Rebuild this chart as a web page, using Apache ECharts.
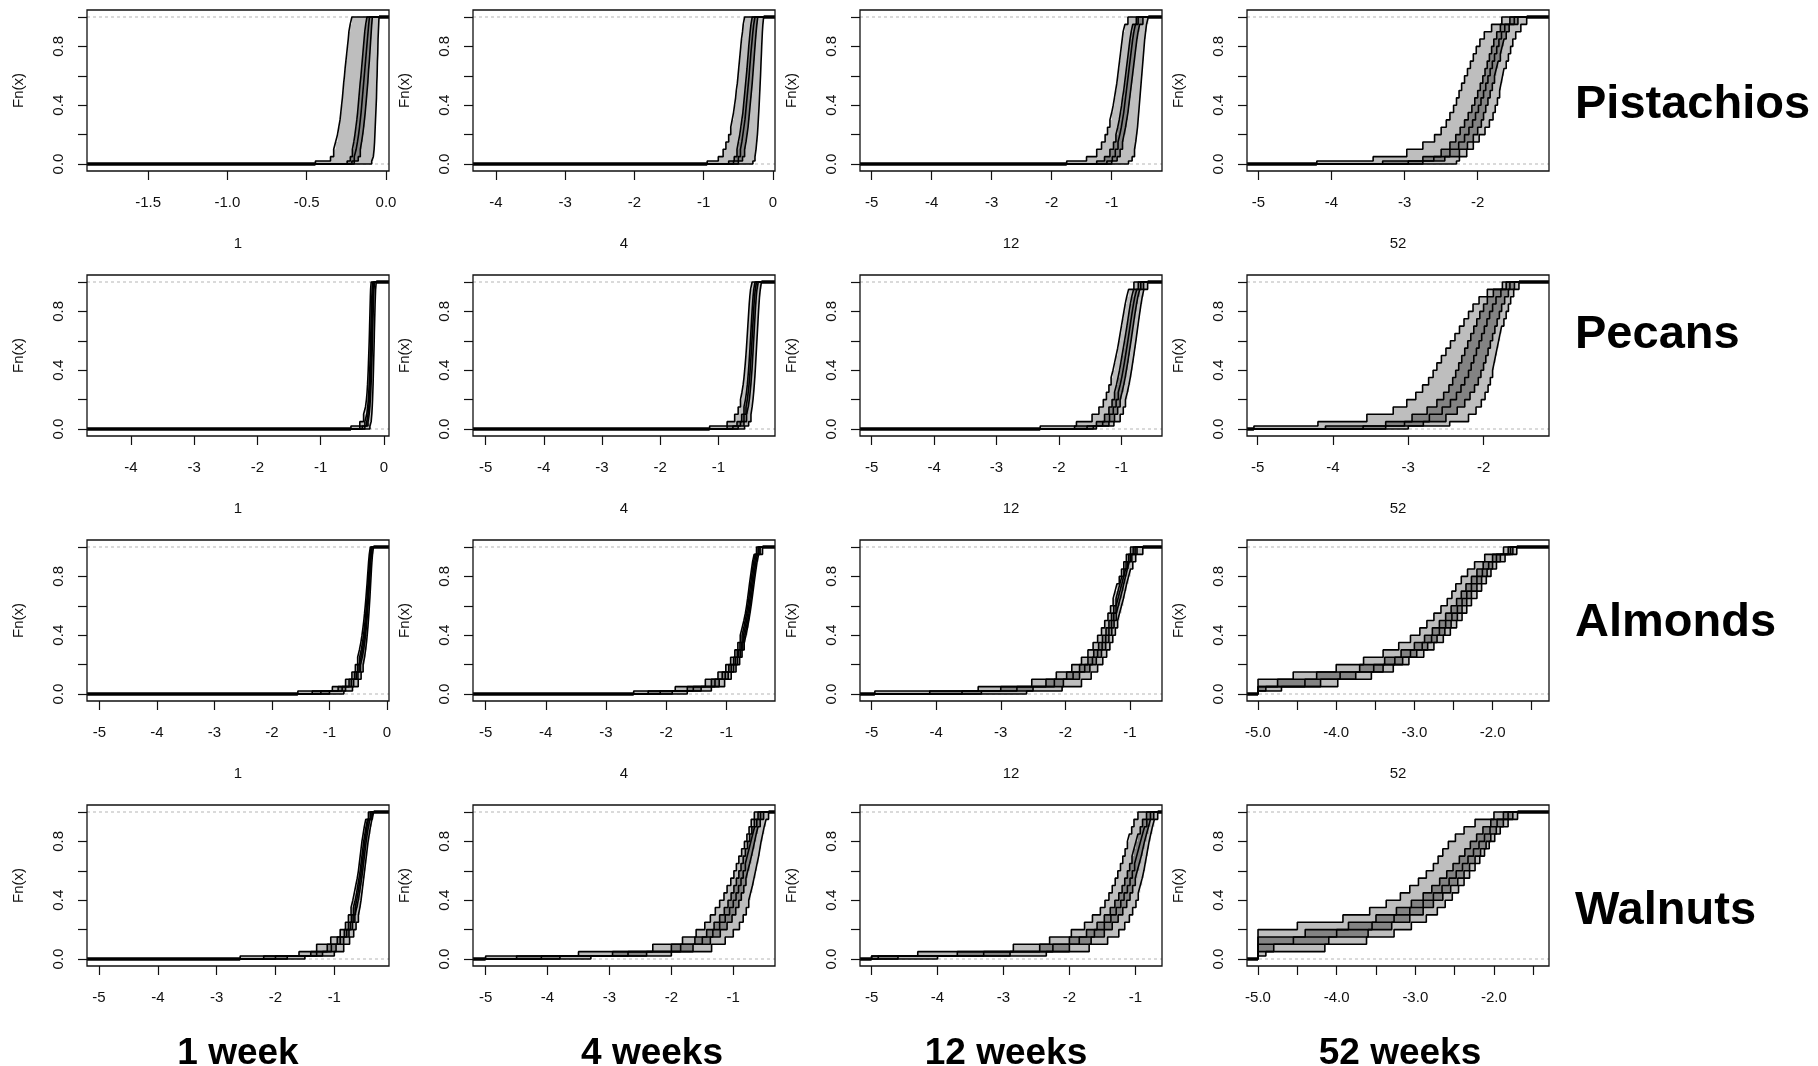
<!DOCTYPE html>
<html><head><meta charset="utf-8">
<script src="https://cdn.jsdelivr.net/npm/echarts@6/dist/echarts.min.js"></script>
<style>html,body{margin:0;padding:0;background:#fff}#c{width:1818px;height:1066px}</style>
</head><body><div id="c"></div>
<script>
// ECDF levels at which each curve's jump positions are given
const LEVELS = [0.02,0.05,0.1,0.15,0.2,0.25,0.3,0.35,0.4,0.45,0.5,0.55,0.6,0.65,0.7,0.75,0.8,0.85,0.9,0.95,1.0];
const nuts = ['Pistachios','Pecans','Almonds','Walnuts'];
const horizons = ['1 week','4 weeks','12 weeks','52 weeks'];
const horizonAxisTitles = ['1','4','12','52'];

// each panel: [outer-upper, inner-upper, median, inner-lower, outer-lower] x positions at LEVELS
const pistachios_w1 = [
 [-0.445,-0.35,-0.33,-0.318,-0.306,-0.298,-0.29,-0.285,-0.28,-0.275,-0.271,-0.267,-0.262,-0.258,-0.253,-0.248,-0.243,-0.238,-0.234,-0.226,-0.215],
 [-0.245,-0.225,-0.212,-0.203,-0.196,-0.19,-0.184,-0.179,-0.175,-0.171,-0.167,-0.163,-0.158,-0.154,-0.15,-0.146,-0.142,-0.138,-0.134,-0.128,-0.12],
 [-0.215,-0.2,-0.188,-0.18,-0.173,-0.167,-0.162,-0.157,-0.153,-0.149,-0.145,-0.141,-0.137,-0.133,-0.129,-0.125,-0.121,-0.117,-0.113,-0.109,-0.104],
 [-0.2,-0.175,-0.162,-0.154,-0.147,-0.141,-0.136,-0.131,-0.127,-0.123,-0.119,-0.115,-0.112,-0.109,-0.105,-0.102,-0.099,-0.096,-0.093,-0.09,-0.086],
 [-0.09,-0.08,-0.075,-0.072,-0.07,-0.068,-0.066,-0.064,-0.062,-0.06,-0.059,-0.058,-0.056,-0.055,-0.054,-0.052,-0.051,-0.05,-0.048,-0.046,-0.044]
];
const pistachios_w4 = [
 [-0.95,-0.79,-0.72,-0.68,-0.64,-0.61,-0.59,-0.57,-0.555,-0.54,-0.53,-0.515,-0.505,-0.495,-0.485,-0.475,-0.465,-0.455,-0.44,-0.43,-0.41],
 [-0.64,-0.56,-0.52,-0.5,-0.48,-0.465,-0.45,-0.435,-0.425,-0.415,-0.405,-0.395,-0.385,-0.375,-0.367,-0.358,-0.35,-0.34,-0.33,-0.318,-0.3],
 [-0.57,-0.5,-0.47,-0.45,-0.435,-0.42,-0.405,-0.395,-0.385,-0.375,-0.365,-0.355,-0.345,-0.337,-0.328,-0.32,-0.31,-0.3,-0.29,-0.278,-0.26],
 [-0.5,-0.44,-0.41,-0.39,-0.375,-0.36,-0.35,-0.34,-0.33,-0.32,-0.31,-0.3,-0.292,-0.284,-0.276,-0.268,-0.26,-0.252,-0.243,-0.233,-0.22],
 [-0.29,-0.26,-0.245,-0.235,-0.225,-0.218,-0.212,-0.206,-0.2,-0.195,-0.19,-0.185,-0.18,-0.176,-0.172,-0.167,-0.163,-0.158,-0.153,-0.146,-0.135]
];
const pistachios_w12 = [
 [-1.75,-1.42,-1.25,-1.17,-1.11,-1.07,-1.03,-1.0,-0.975,-0.955,-0.935,-0.915,-0.9,-0.885,-0.87,-0.855,-0.84,-0.825,-0.81,-0.78,-0.73],
 [-1.25,-1.12,-1.03,-0.97,-0.93,-0.9,-0.875,-0.855,-0.835,-0.82,-0.8,-0.785,-0.77,-0.755,-0.74,-0.725,-0.71,-0.695,-0.675,-0.65,-0.59],
 [-1.08,-0.99,-0.94,-0.895,-0.865,-0.84,-0.82,-0.8,-0.785,-0.77,-0.755,-0.74,-0.725,-0.71,-0.695,-0.68,-0.665,-0.65,-0.63,-0.605,-0.56],
 [-1.0,-0.91,-0.86,-0.82,-0.795,-0.77,-0.75,-0.73,-0.715,-0.7,-0.685,-0.67,-0.655,-0.64,-0.625,-0.61,-0.595,-0.58,-0.56,-0.535,-0.48],
 [-0.72,-0.66,-0.62,-0.6,-0.585,-0.57,-0.56,-0.55,-0.54,-0.53,-0.52,-0.51,-0.5,-0.49,-0.48,-0.47,-0.46,-0.45,-0.435,-0.42,-0.39]
];
const pistachios_w52 = [
 [-4.2,-3.43,-2.97,-2.75,-2.59,-2.5,-2.43,-2.38,-2.33,-2.29,-2.255,-2.22,-2.18,-2.14,-2.1,-2.06,-2.02,-1.97,-1.91,-1.81,-1.67],
 [-3.3,-2.75,-2.5,-2.38,-2.3,-2.24,-2.18,-2.13,-2.08,-2.04,-2.0,-1.965,-1.93,-1.9,-1.87,-1.84,-1.81,-1.78,-1.74,-1.69,-1.56],
 [-2.95,-2.6,-2.38,-2.26,-2.18,-2.12,-2.07,-2.03,-1.99,-1.955,-1.92,-1.89,-1.86,-1.83,-1.8,-1.77,-1.74,-1.71,-1.675,-1.63,-1.5],
 [-2.75,-2.45,-2.25,-2.14,-2.06,-2.0,-1.95,-1.92,-1.89,-1.86,-1.83,-1.8,-1.77,-1.745,-1.72,-1.69,-1.665,-1.64,-1.61,-1.57,-1.45],
 [-2.29,-2.25,-2.15,-2.06,-1.98,-1.9,-1.84,-1.79,-1.76,-1.73,-1.7,-1.68,-1.66,-1.64,-1.61,-1.58,-1.55,-1.52,-1.48,-1.41,-1.33]
];
const pecans_w1 = [
 [-0.52,-0.38,-0.32,-0.29,-0.275,-0.265,-0.258,-0.252,-0.247,-0.243,-0.239,-0.235,-0.231,-0.228,-0.225,-0.222,-0.219,-0.216,-0.213,-0.209,-0.2],
 [-0.38,-0.3,-0.27,-0.255,-0.245,-0.238,-0.232,-0.227,-0.223,-0.219,-0.215,-0.212,-0.209,-0.206,-0.203,-0.2,-0.197,-0.194,-0.19,-0.185,-0.175],
 [-0.34,-0.27,-0.25,-0.238,-0.229,-0.222,-0.216,-0.212,-0.208,-0.204,-0.2,-0.197,-0.194,-0.191,-0.188,-0.185,-0.182,-0.179,-0.175,-0.17,-0.16],
 [-0.3,-0.25,-0.232,-0.221,-0.213,-0.207,-0.202,-0.197,-0.193,-0.189,-0.186,-0.183,-0.18,-0.177,-0.174,-0.171,-0.168,-0.165,-0.161,-0.156,-0.145],
 [-0.22,-0.2,-0.19,-0.183,-0.178,-0.174,-0.17,-0.167,-0.164,-0.161,-0.158,-0.155,-0.152,-0.15,-0.147,-0.144,-0.141,-0.138,-0.134,-0.13,-0.12]
];
const pecans_w4 = [
 [-1.15,-0.85,-0.72,-0.66,-0.62,-0.595,-0.575,-0.56,-0.548,-0.537,-0.527,-0.518,-0.51,-0.502,-0.494,-0.486,-0.478,-0.47,-0.46,-0.447,-0.42],
 [-0.85,-0.68,-0.6,-0.56,-0.535,-0.517,-0.503,-0.492,-0.482,-0.473,-0.465,-0.457,-0.45,-0.443,-0.436,-0.429,-0.421,-0.413,-0.404,-0.392,-0.37],
 [-0.75,-0.62,-0.56,-0.525,-0.503,-0.487,-0.474,-0.463,-0.454,-0.446,-0.438,-0.43,-0.423,-0.416,-0.409,-0.402,-0.395,-0.387,-0.378,-0.366,-0.345],
 [-0.66,-0.56,-0.515,-0.487,-0.468,-0.454,-0.442,-0.432,-0.423,-0.415,-0.408,-0.401,-0.394,-0.387,-0.38,-0.373,-0.366,-0.358,-0.349,-0.337,-0.315],
 [-0.55,-0.48,-0.44,-0.42,-0.405,-0.393,-0.383,-0.374,-0.366,-0.359,-0.352,-0.345,-0.338,-0.331,-0.324,-0.317,-0.31,-0.302,-0.293,-0.28,-0.26]
];
const pecans_w12 = [
 [-2.3,-1.72,-1.47,-1.36,-1.29,-1.24,-1.2,-1.165,-1.135,-1.11,-1.085,-1.06,-1.04,-1.02,-1.0,-0.98,-0.96,-0.94,-0.915,-0.885,-0.8],
 [-1.75,-1.4,-1.27,-1.2,-1.15,-1.11,-1.08,-1.055,-1.03,-1.01,-0.99,-0.97,-0.95,-0.93,-0.912,-0.894,-0.876,-0.857,-0.835,-0.805,-0.73],
 [-1.55,-1.3,-1.19,-1.13,-1.085,-1.05,-1.02,-0.995,-0.973,-0.953,-0.934,-0.915,-0.897,-0.879,-0.861,-0.844,-0.826,-0.807,-0.785,-0.755,-0.69],
 [-1.4,-1.2,-1.11,-1.06,-1.02,-0.99,-0.963,-0.94,-0.92,-0.9,-0.882,-0.864,-0.846,-0.829,-0.812,-0.795,-0.777,-0.758,-0.736,-0.707,-0.645],
 [-1.45,-1.12,-1.02,-0.97,-0.935,-0.905,-0.88,-0.858,-0.838,-0.82,-0.802,-0.785,-0.768,-0.752,-0.736,-0.72,-0.703,-0.686,-0.666,-0.64,-0.58]
];
const pecans_w52 = [
 [-5.05,-4.2,-3.55,-3.2,-3.02,-2.9,-2.81,-2.73,-2.67,-2.62,-2.56,-2.5,-2.44,-2.38,-2.32,-2.26,-2.2,-2.14,-2.06,-1.95,-1.75],
 [-4.1,-3.3,-2.95,-2.75,-2.62,-2.53,-2.46,-2.41,-2.37,-2.33,-2.29,-2.25,-2.21,-2.17,-2.13,-2.09,-2.05,-2.0,-1.95,-1.87,-1.7],
 [-3.6,-3.05,-2.72,-2.55,-2.44,-2.36,-2.3,-2.25,-2.2,-2.165,-2.13,-2.095,-2.06,-2.025,-1.99,-1.955,-1.92,-1.88,-1.835,-1.77,-1.65],
 [-3.3,-2.8,-2.5,-2.35,-2.25,-2.18,-2.12,-2.07,-2.035,-2.0,-1.97,-1.94,-1.91,-1.88,-1.85,-1.82,-1.79,-1.76,-1.72,-1.67,-1.59],
 [-3.0,-2.45,-2.2,-2.1,-2.03,-1.98,-1.94,-1.91,-1.88,-1.86,-1.84,-1.82,-1.8,-1.78,-1.76,-1.73,-1.7,-1.67,-1.64,-1.6,-1.53]
];
const almonds_w1 = [
 [-1.55,-0.95,-0.72,-0.61,-0.55,-0.51,-0.48,-0.455,-0.435,-0.418,-0.403,-0.39,-0.378,-0.367,-0.357,-0.347,-0.338,-0.329,-0.32,-0.308,-0.29],
 [-1.3,-0.85,-0.66,-0.565,-0.51,-0.475,-0.448,-0.426,-0.408,-0.393,-0.38,-0.368,-0.357,-0.347,-0.338,-0.329,-0.32,-0.312,-0.303,-0.292,-0.275],
 [-1.15,-0.78,-0.62,-0.535,-0.485,-0.452,-0.427,-0.407,-0.39,-0.376,-0.364,-0.353,-0.343,-0.334,-0.325,-0.317,-0.309,-0.301,-0.292,-0.282,-0.265],
 [-1.0,-0.72,-0.58,-0.505,-0.46,-0.43,-0.407,-0.388,-0.373,-0.36,-0.349,-0.339,-0.33,-0.321,-0.313,-0.305,-0.297,-0.29,-0.282,-0.272,-0.255],
 [-0.75,-0.6,-0.5,-0.45,-0.415,-0.39,-0.372,-0.357,-0.344,-0.333,-0.323,-0.314,-0.306,-0.298,-0.291,-0.284,-0.277,-0.27,-0.262,-0.252,-0.235]
];
const almonds_w4 = [
 [-2.54,-1.85,-1.35,-1.14,-1.01,-0.93,-0.86,-0.81,-0.77,-0.74,-0.71,-0.685,-0.665,-0.648,-0.632,-0.617,-0.6,-0.583,-0.565,-0.54,-0.5],
 [-2.3,-1.65,-1.25,-1.07,-0.96,-0.88,-0.82,-0.775,-0.74,-0.712,-0.687,-0.665,-0.645,-0.628,-0.612,-0.597,-0.581,-0.565,-0.547,-0.523,-0.475],
 [-2.1,-1.55,-1.19,-1.02,-0.92,-0.85,-0.795,-0.752,-0.718,-0.69,-0.666,-0.645,-0.626,-0.609,-0.593,-0.578,-0.562,-0.546,-0.528,-0.505,-0.46],
 [-1.9,-1.42,-1.12,-0.97,-0.88,-0.815,-0.765,-0.727,-0.695,-0.668,-0.645,-0.625,-0.607,-0.59,-0.574,-0.559,-0.543,-0.527,-0.509,-0.485,-0.44],
 [-1.65,-1.25,-1.03,-0.92,-0.84,-0.78,-0.74,-0.705,-0.675,-0.65,-0.628,-0.608,-0.59,-0.573,-0.557,-0.541,-0.525,-0.508,-0.49,-0.465,-0.4]
];
const almonds_w12 = [
 [-4.95,-3.35,-2.52,-2.14,-1.9,-1.75,-1.65,-1.57,-1.5,-1.44,-1.39,-1.34,-1.3,-1.26,-1.23,-1.2,-1.165,-1.13,-1.095,-1.055,-0.99],
 [-4.1,-3.0,-2.3,-1.98,-1.78,-1.65,-1.56,-1.485,-1.425,-1.37,-1.325,-1.285,-1.25,-1.215,-1.185,-1.155,-1.125,-1.093,-1.06,-1.02,-0.95],
 [-3.6,-2.75,-2.17,-1.88,-1.7,-1.58,-1.5,-1.43,-1.375,-1.325,-1.285,-1.25,-1.215,-1.185,-1.155,-1.125,-1.097,-1.067,-1.035,-0.995,-0.92],
 [-3.3,-2.5,-2.03,-1.78,-1.62,-1.52,-1.44,-1.375,-1.325,-1.28,-1.245,-1.21,-1.18,-1.15,-1.12,-1.095,-1.067,-1.04,-1.01,-0.97,-0.89],
 [-2.6,-2.05,-1.75,-1.6,-1.5,-1.42,-1.36,-1.31,-1.265,-1.225,-1.19,-1.16,-1.13,-1.1,-1.075,-1.05,-1.02,-0.99,-0.955,-0.91,-0.8]
];
const almonds_w52 = [
 [-5.0,-5.0,-5.0,-4.55,-4.0,-3.65,-3.4,-3.2,-3.05,-2.93,-2.84,-2.75,-2.66,-2.58,-2.52,-2.47,-2.4,-2.32,-2.23,-2.1,-1.86],
 [-5.0,-5.0,-4.75,-4.25,-3.7,-3.38,-3.17,-3.0,-2.87,-2.77,-2.68,-2.6,-2.53,-2.46,-2.4,-2.34,-2.27,-2.2,-2.12,-2.0,-1.8],
 [-5.0,-5.0,-4.4,-3.95,-3.52,-3.25,-3.05,-2.9,-2.78,-2.68,-2.6,-2.52,-2.45,-2.39,-2.33,-2.27,-2.2,-2.13,-2.05,-1.95,-1.77],
 [-5.0,-4.9,-4.2,-3.75,-3.4,-3.15,-2.97,-2.83,-2.71,-2.61,-2.53,-2.45,-2.39,-2.33,-2.27,-2.2,-2.14,-2.07,-2.0,-1.9,-1.74],
 [-5.0,-4.7,-3.98,-3.55,-3.27,-3.07,-2.88,-2.75,-2.63,-2.54,-2.46,-2.39,-2.33,-2.27,-2.2,-2.14,-2.08,-2.02,-1.95,-1.84,-1.69]
];
const walnuts_w1 = [
 [-2.6,-1.6,-1.3,-1.06,-0.9,-0.81,-0.76,-0.715,-0.685,-0.66,-0.635,-0.61,-0.59,-0.575,-0.56,-0.545,-0.53,-0.51,-0.49,-0.465,-0.42],
 [-2.2,-1.4,-1.12,-0.95,-0.83,-0.76,-0.71,-0.675,-0.645,-0.62,-0.6,-0.58,-0.56,-0.545,-0.53,-0.515,-0.5,-0.48,-0.46,-0.435,-0.39],
 [-2.0,-1.3,-1.05,-0.9,-0.79,-0.725,-0.68,-0.645,-0.62,-0.597,-0.577,-0.558,-0.54,-0.525,-0.51,-0.495,-0.48,-0.462,-0.443,-0.42,-0.375],
 [-1.8,-1.2,-0.97,-0.84,-0.75,-0.69,-0.65,-0.618,-0.593,-0.572,-0.553,-0.535,-0.518,-0.503,-0.488,-0.473,-0.458,-0.44,-0.42,-0.395,-0.355],
 [-1.5,-1.0,-0.84,-0.74,-0.67,-0.63,-0.59,-0.565,-0.545,-0.53,-0.515,-0.5,-0.485,-0.47,-0.455,-0.44,-0.425,-0.405,-0.385,-0.36,-0.33]
];
const walnuts_w4 = [
 [-5.0,-3.5,-2.3,-1.82,-1.6,-1.46,-1.37,-1.29,-1.22,-1.15,-1.1,-1.04,-0.99,-0.95,-0.91,-0.865,-0.82,-0.78,-0.745,-0.71,-0.66],
 [-4.5,-2.95,-2.0,-1.62,-1.43,-1.31,-1.22,-1.145,-1.085,-1.035,-0.99,-0.95,-0.91,-0.875,-0.84,-0.805,-0.77,-0.735,-0.7,-0.66,-0.6],
 [-4.1,-2.7,-1.85,-1.5,-1.33,-1.22,-1.13,-1.06,-1.0,-0.955,-0.915,-0.875,-0.84,-0.805,-0.775,-0.745,-0.715,-0.685,-0.655,-0.62,-0.56],
 [-3.8,-2.4,-1.65,-1.37,-1.21,-1.1,-1.02,-0.96,-0.91,-0.87,-0.83,-0.795,-0.765,-0.735,-0.707,-0.68,-0.655,-0.63,-0.6,-0.565,-0.51],
 [-3.3,-2.0,-1.35,-1.13,-1.0,-0.9,-0.84,-0.79,-0.75,-0.72,-0.69,-0.665,-0.64,-0.615,-0.59,-0.57,-0.55,-0.525,-0.5,-0.47,-0.43]
];
const walnuts_w12 = [
 [-5.0,-4.3,-2.85,-2.3,-1.97,-1.77,-1.65,-1.53,-1.46,-1.4,-1.35,-1.305,-1.265,-1.225,-1.19,-1.155,-1.12,-1.09,-1.055,-1.02,-0.96],
 [-5.0,-3.7,-2.45,-2.0,-1.74,-1.58,-1.47,-1.38,-1.31,-1.25,-1.2,-1.16,-1.12,-1.085,-1.05,-1.02,-0.99,-0.96,-0.925,-0.89,-0.83],
 [-4.9,-3.3,-2.25,-1.85,-1.62,-1.47,-1.37,-1.29,-1.22,-1.17,-1.12,-1.08,-1.045,-1.01,-0.98,-0.95,-0.92,-0.89,-0.86,-0.825,-0.77],
 [-4.6,-2.9,-2.0,-1.67,-1.47,-1.35,-1.26,-1.19,-1.13,-1.08,-1.04,-1.0,-0.97,-0.94,-0.91,-0.885,-0.86,-0.83,-0.8,-0.77,-0.72],
 [-4.0,-2.35,-1.7,-1.42,-1.25,-1.16,-1.09,-1.04,-0.99,-0.955,-0.925,-0.895,-0.87,-0.85,-0.83,-0.81,-0.79,-0.765,-0.74,-0.71,-0.66]
];
const walnuts_w52 = [
 [-5.0,-5.0,-5.0,-5.0,-5.0,-4.5,-3.92,-3.58,-3.37,-3.19,-3.07,-2.96,-2.86,-2.77,-2.71,-2.65,-2.58,-2.49,-2.38,-2.24,-2.0],
 [-5.0,-5.0,-5.0,-5.0,-4.4,-3.85,-3.5,-3.24,-3.05,-2.9,-2.79,-2.69,-2.6,-2.52,-2.44,-2.37,-2.3,-2.22,-2.14,-2.04,-1.88],
 [-5.0,-5.0,-5.0,-4.55,-4.0,-3.55,-3.27,-3.07,-2.9,-2.77,-2.66,-2.57,-2.48,-2.4,-2.33,-2.26,-2.19,-2.12,-2.05,-1.96,-1.82],
 [-5.0,-5.0,-4.8,-4.1,-3.6,-3.3,-3.07,-2.9,-2.77,-2.65,-2.55,-2.46,-2.38,-2.31,-2.24,-2.17,-2.1,-2.04,-1.97,-1.88,-1.76],
 [-5.0,-4.9,-4.15,-3.62,-3.27,-3.05,-2.86,-2.72,-2.62,-2.53,-2.45,-2.38,-2.31,-2.24,-2.18,-2.12,-2.06,-1.99,-1.92,-1.82,-1.7]
];

// x-axis extents per panel (row-major)
const xLimits = [
 [-1.886,0.019],[-4.332,0.029],[-5.195,-0.162],[-5.155,-1.025],
 [-4.696,0.082],[-5.216,-0.027],[-5.186,-0.35],[-5.142,-1.131],
 [-5.217,0.035],[-5.209,-0.193],[-5.18,-0.503],[-5.141,-1.278],
 [-5.204,-0.07],[-5.204,-0.326],[-5.176,-0.595],[-5.14,-1.3]
];
// x tick positions and labelled ticks per panel
const xTicks = [
 [-1.5,-1,-0.5,0],[-4,-3,-2,-1,0],[-5,-4,-3,-2,-1],[-5,-4,-3,-2],
 [-4,-3,-2,-1,0],[-5,-4,-3,-2,-1],[-5,-4,-3,-2,-1],[-5,-4,-3,-2],
 [-5,-4,-3,-2,-1,0],[-5,-4,-3,-2,-1],[-5,-4,-3,-2,-1],[-5,-4.5,-4,-3.5,-3,-2.5,-2,-1.5],
 [-5,-4,-3,-2,-1],[-5,-4,-3,-2,-1],[-5,-4,-3,-2,-1],[-5,-4.5,-4,-3.5,-3,-2.5,-2,-1.5]
];
const xTickLabels = [
 [-1.5,-1,-0.5,0],[-4,-3,-2,-1,0],[-5,-4,-3,-2,-1],[-5,-4,-3,-2],
 [-4,-3,-2,-1,0],[-5,-4,-3,-2,-1],[-5,-4,-3,-2,-1],[-5,-4,-3,-2],
 [-5,-4,-3,-2,-1,0],[-5,-4,-3,-2,-1],[-5,-4,-3,-2,-1],[-5,-4,-3,-2],
 [-5,-4,-3,-2,-1],[-5,-4,-3,-2,-1],[-5,-4,-3,-2,-1],[-5,-4,-3,-2]
];
const xLabelDecimals = [1,0,0,0, 0,0,0,0, 0,0,0,1, 0,0,0,1];
const yTickLabels = [0,0.4,0.8];

const panels = [
 pistachios_w1, pistachios_w4, pistachios_w12, pistachios_w52,
 pecans_w1, pecans_w4, pecans_w12, pecans_w52,
 almonds_w1, almonds_w4, almonds_w12, almonds_w52,
 walnuts_w1, walnuts_w4, walnuts_w12, walnuts_w52
];

// layout (pixels)
const COL_LEFT = [87, 473, 860, 1247];
const ROW_TOP = [10, 275, 540, 805];
const PW = 302, BOX_H = 161, PAD = 7, PH = 147;
const FONT = '"Liberation Sans", Arial, Helvetica, sans-serif';
const ROW_LABEL_Y = [105, 335, 623, 911];
const COL_LABEL_X = [238, 652, 1006, 1400];

function stepPath(curve, xmin, xmax) {
  const pts = [[xmin, 0]];
  let prev = 0;
  for (let i = 0; i < curve.length; i++) {
    pts.push([curve[i], prev]);
    pts.push([curve[i], LEVELS[i]]);
    prev = LEVELS[i];
  }
  pts.push([xmax, 1]);
  return pts;
}
function band(api, upper, lower, xmin, xmax) {
  const a = stepPath(upper, xmin, xmax);
  const b = stepPath(lower, xmin, xmax).reverse();
  return a.concat(b).map(p => api.coord(p));
}

const grid = [], xAxis = [], yAxis = [], series = [], graphic = [];
for (let r = 0; r < 4; r++) {
  for (let c = 0; c < 4; c++) {
    const k = r * 4 + c;
    const curves = panels[k];
    const [xmin, xmax] = xLimits[k];
    grid.push({left: COL_LEFT[c], top: ROW_TOP[r] + PAD, width: PW, height: PH, show: false});
    graphic.push({type: 'rect', z: 100, silent: true,
      shape: {x: COL_LEFT[c], y: ROW_TOP[r], width: PW, height: BOX_H},
      style: {fill: 'none', stroke: '#111', lineWidth: 1.3}});
    const dec = xLabelDecimals[k];
    xAxis.push({gridIndex: k, type: 'value', min: xmin, max: xmax, offset: PAD, position: 'bottom',
      name: r < 3 ? horizonAxisTitles[c] : '', nameLocation: 'middle', nameGap: 65,
      nameTextStyle: {fontFamily: FONT, fontSize: 15, color: '#111'},
      axisLine: {show: false, onZero: false}, splitLine: {show: false},
      axisTick: {show: true, length: 9, customValues: xTicks[k], lineStyle: {color: '#111', width: 1.2}},
      axisLabel: {customValues: xTickLabels[k], margin: 24, fontFamily: FONT, fontSize: 15, color: '#111',
        formatter: v => (dec ? Number(v).toFixed(1) : String(Number(v)))}
    });
    yAxis.push({gridIndex: k, type: 'value', min: 0, max: 1, interval: 0.2, position: 'left',
      name: 'Fn(x)', nameLocation: 'middle', nameRotate: 90, nameGap: 61,
      nameTextStyle: {fontFamily: FONT, fontSize: 15, color: '#111'},
      axisLine: {show: false, onZero: false}, splitLine: {show: false},
      axisTick: {show: true, length: 9, lineStyle: {color: '#111', width: 1.2}},
      axisLabel: {rotate: 90, margin: 21, fontFamily: FONT, fontSize: 15, color: '#111',
        showMinLabel: true, showMaxLabel: true,
        formatter: v => (yTickLabels.some(t => Math.abs(t - v) < 1e-9) ? Number(v).toFixed(1) : '')}
    });
    // reference lines at 0 and 1
    [0, 1].forEach(h => series.push({type: 'line', xAxisIndex: k, yAxisIndex: k, silent: true, z: 1, clip: false,
      symbol: 'none', data: [[xmin, h], [xmax, h]],
      lineStyle: {color: '#b5b5b5', width: 1, type: [3, 3]}}));
    // bands
    series.push({type: 'custom', xAxisIndex: k, yAxisIndex: k, silent: true, z: 2, clip: false,
      data: [[xmin, 0]], encode: {x: 0, y: 1},
      renderItem: (params, api) => ({type: 'group', children: [
        {type: 'polygon', shape: {points: band(api, curves[0], curves[4], xmin, xmax)}, style: {fill: '#bebebe'}},
        {type: 'polygon', shape: {points: band(api, curves[1], curves[3], xmin, xmax)}, style: {fill: '#838383'}}
      ]})
    });
    // step curves
    curves.forEach(cv => {
      const d = [[xmin, 0]].concat(cv.map((x, i) => [x, LEVELS[i]]), [[xmax, 1]]);
      series.push({type: 'line', xAxisIndex: k, yAxisIndex: k, silent: true, z: 3, clip: false,
        step: 'end', symbol: 'none', data: d,
        lineStyle: {color: '#000', width: 1.6}});
    });
    // heavy flat ends where all curves coincide
    series.push({type: 'line', xAxisIndex: k, yAxisIndex: k, silent: true, z: 4, clip: false, symbol: 'none',
      data: [[xmin, 0], [curves[0][0], 0]], lineStyle: {color: '#000', width: 3.5}});
    series.push({type: 'line', xAxisIndex: k, yAxisIndex: k, silent: true, z: 4, clip: false, symbol: 'none',
      data: [[curves[4][curves[4].length - 1], 1], [xmax, 1]], lineStyle: {color: '#000', width: 3.5}});
  }
}

nuts.forEach((n, i) => graphic.push({type: 'text', x: 1575, y: ROW_LABEL_Y[i],
  style: {text: n, font: 'bold 47px ' + FONT, fill: '#000', align: 'left', verticalAlign: 'middle'}}));
horizons.forEach((h, i) => graphic.push({type: 'text', x: COL_LABEL_X[i], y: 1054,
  style: {text: h, font: 'bold 37px ' + FONT, fill: '#000', align: 'center', verticalAlign: 'middle'}}));

const chart = echarts.init(document.getElementById('c'), null, {renderer: 'canvas'});
chart.setOption({animation: false, backgroundColor: '#fff', grid, xAxis, yAxis, series, graphic});
</script>
</body></html>
